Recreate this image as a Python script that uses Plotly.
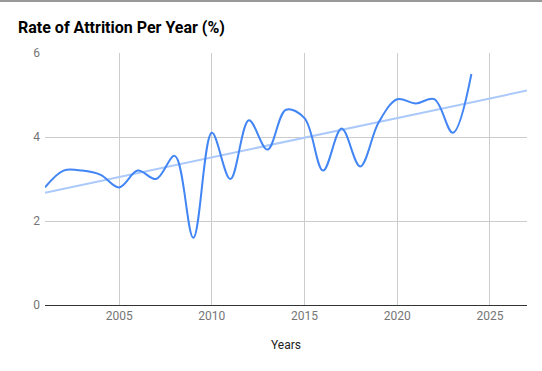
import numpy as np
import plotly.graph_objects as go

years = list(range(2001, 2025))
attrition = [2.8, 3.2, 3.2, 3.1, 2.8, 3.2, 3.0, 3.55, 1.6, 4.1, 3.0, 4.4,
             3.7, 4.65, 4.45, 3.2, 4.2, 3.3, 4.35, 4.9, 4.8, 4.9, 4.1, 5.5]
x_ticks = [2005, 2010, 2015, 2020, 2025]
y_ticks = [0, 2, 4, 6]
x_range = [2001, 2027]

# linear trendline computed from the data
slope, intercept = np.polyfit(years, attrition, 1)
trend_x = x_range
trend_y = [slope * v + intercept for v in trend_x]

W, H = 542, 371
ml, mr, mt, mb = 45, 15, 53, 66
pw, ph = W - ml - mr, H - mt - mb

fig = go.Figure()
fig.add_trace(go.Scatter(x=trend_x, y=trend_y, mode="lines",
                         line=dict(color="#abc9fa", width=2), hoverinfo="skip",
                         showlegend=False))
fig.add_trace(go.Scatter(x=years, y=attrition, mode="lines",
                         line=dict(color="#4285f4", width=2, shape="spline", smoothing=1.0),
                         showlegend=False))

fig.update_layout(
    width=W, height=H,
    margin=dict(l=ml, r=mr, t=mt, b=mb, pad=0),
    paper_bgcolor="white", plot_bgcolor="white",
    font=dict(family="Roboto", size=12, color="#757575"),
    title=dict(text="<b>Rate of Attrition Per Year (%)</b>",
               font=dict(family="Roboto", size=16, color="#000000"),
               xref="container", x=18 / W, xanchor="left",
               yref="container", y=1 - 27 / H, yanchor="middle"),
    xaxis=dict(range=x_range, tickvals=x_ticks, showgrid=True, gridcolor="#cccccc",
               gridwidth=1, zeroline=False, showline=True, linecolor="#333333",
               linewidth=1, ticks="", tickfont=dict(size=12, color="#757575"),
               title=dict(text="Years", font=dict(size=12, color="#222222"), standoff=18)),
    yaxis=dict(range=[0, 6], tickvals=y_ticks, showgrid=True, gridcolor="#cccccc",
               gridwidth=1, zeroline=False, showline=False, ticks="",
               ticklabelstandoff=4, tickfont=dict(size=12, color="#757575")),
    shapes=[dict(type="line", xref="paper", yref="paper",
                 x0=-ml / pw, x1=(W - ml) / pw,
                 y0=(H - mb - 1) / ph, y1=(H - mb - 1) / ph,
                 line=dict(color="#999999", width=2))],
)

fig.write_html("out.html", config={"displayModeBar": False},
               post_script="document.body.style.margin='0';document.body.style.overflow='hidden';")
